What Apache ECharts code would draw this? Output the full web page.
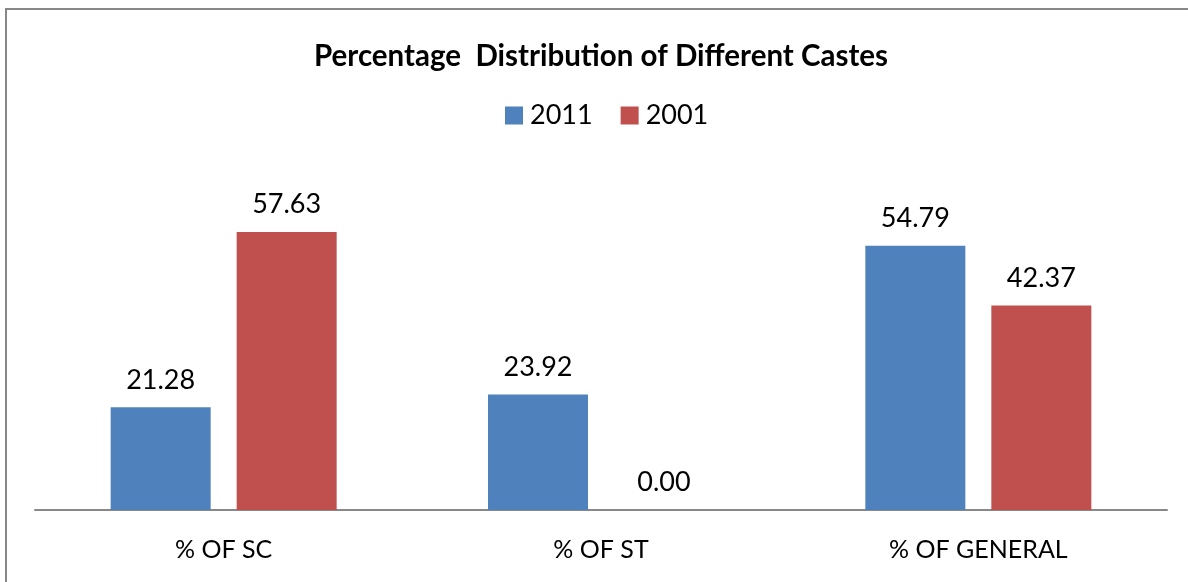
<!DOCTYPE html>
<html><head><meta charset="utf-8">
<script src="https://cdn.jsdelivr.net/npm/echarts@6/dist/echarts.min.js"></script>
<style>html,body{margin:0;padding:0;background:#fff}#c{width:1188px;height:582px}</style>
</head><body><div id="c"></div>
<script>
const categories = ['% OF SC', '% OF ST', '% OF GENERAL'];
const seriesNames = ['2011', '2001'];
const values2011 = [21.28, 23.92, 54.79];
const values2001 = [57.63, 0.00, 42.37];
const titleText = 'Percentage  Distribution of Different Castes';

const FONT = 'Lato, "Open Sans", sans-serif';
const chart = echarts.init(document.getElementById('c'), null, {renderer: 'canvas'});
const labelStyle = {show: true, position: 'top', distance: 14, fontSize: 27, color: '#000', fontFamily: FONT,
  formatter: p => p.value.toFixed(2)};
chart.setOption({
  animation: false,
  graphic: [{type: 'rect', shape: {x: 6, y: 9, width: 1200, height: 600},
    style: {fill: 'none', stroke: '#888', lineWidth: 2}, z: -1}],
  title: {text: titleText, left: 309, top: 36,
    textStyle: {fontSize: 29.5, fontWeight: 'bold', color: '#000', fontFamily: FONT}},
  legend: {data: seriesNames, top: 97, left: 500, itemWidth: 18, itemHeight: 18, itemGap: 28,
    icon: 'rect', textStyle: {fontSize: 27, color: '#000', fontFamily: FONT, padding: [0, 0, 0, 2]}},
  grid: {left: 35, right: 21, top: 172.3, bottom: 72},
  xAxis: {type: 'category', data: categories,
    axisLine: {lineStyle: {color: '#888', width: 2}}, axisTick: {show: false},
    axisLabel: {fontSize: 25, color: '#000', fontFamily: FONT, margin: 27}},
  yAxis: {type: 'value', min: 0, max: 70, interval: 10, show: false, splitLine: {show: false}},
  series: [
    {name: seriesNames[0], type: 'bar', data: values2011, barWidth: 100, barGap: '26%',
      itemStyle: {color: '#4F81BD'}, label: labelStyle},
    {name: seriesNames[1], type: 'bar', data: values2001, barWidth: 100,
      itemStyle: {color: '#C0504D'}, label: labelStyle}
  ]
});
</script></body></html>
